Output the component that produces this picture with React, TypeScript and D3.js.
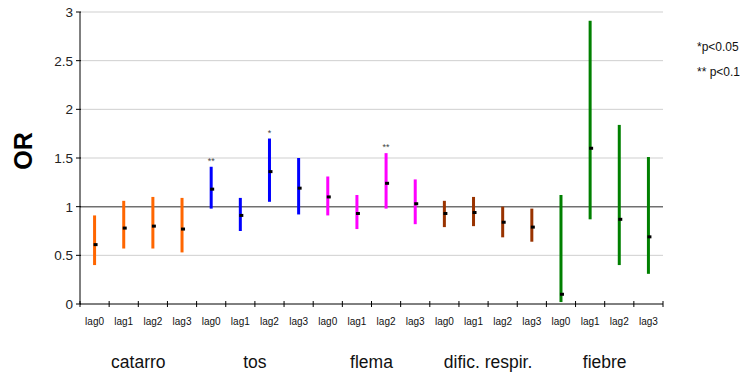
import * as d3 from "d3";

const GROUPS = ["catarro", "tos", "flema", "dific. respir.", "fiebre"];
const LAGS = ["lag0", "lag1", "lag2", "lag3"];
const GROUP_COLORS = ["#ff6600", "#0000ff", "#ff00ff", "#993300", "#008000"];

// odds ratio, lower and upper confidence limits, one per group x lag
const OR_VALUES = [0.61, 0.78, 0.8, 0.77, 1.18, 0.91, 1.36, 1.19, 1.1, 0.93, 1.24, 1.03, 0.93, 0.94, 0.84, 0.79, 0.1, 1.6, 0.87, 0.69];
const LOWER = [0.4, 0.57, 0.57, 0.53, 0.98, 0.75, 1.05, 0.92, 0.91, 0.77, 0.98, 0.82, 0.79, 0.8, 0.685, 0.64, 0.02, 0.87, 0.4, 0.31];
const UPPER = [0.91, 1.06, 1.1, 1.09, 1.41, 1.09, 1.7, 1.5, 1.31, 1.12, 1.55, 1.28, 1.06, 1.1, 1.0, 0.98, 1.12, 2.91, 1.84, 1.51];
const SIGNIF = ["", "", "", "", "**", "", "*", "", "", "", "**", "", "", "", "", "", "", "", "", ""];

const Y_TICKS = [0, 0.5, 1, 1.5, 2, 2.5, 3];
const NOTES = ["*p<0.05", "** p<0.1"];

const WIDTH = 744;
const HEIGHT = 375;
const MARGIN = { top: 12, right: 81, bottom: 71, left: 80 };
const FONT = "'Liberation Sans', Arial, sans-serif";

export default function App() {
  const boundsWidth = WIDTH - MARGIN.left - MARGIN.right;
  const boundsHeight = HEIGHT - MARGIN.top - MARGIN.bottom;

  const data = [];
  GROUPS.forEach((g, gi) => {
    LAGS.forEach((l, li) => {
      const i = gi * LAGS.length + li;
      data.push({ key: g + "-" + l, group: g, gi, lag: l, or: OR_VALUES[i], lo: LOWER[i], hi: UPPER[i], sig: SIGNIF[i] });
    });
  });

  const xScale = d3.scaleBand().domain(data.map((d) => d.key)).range([0, boundsWidth]);
  const yScale = d3.scaleLinear().domain([0, 3]).range([boundsHeight, 0]);
  const bw = xScale.bandwidth();

  const grid = Y_TICKS.slice(1).map((v) => (
    <line
      key={v}
      x1={0}
      x2={boundsWidth}
      y1={yScale(v)}
      y2={yScale(v)}
      stroke={v === 1 ? "#707070" : "#cfcfcf"}
      strokeWidth={v === 1 ? 1.5 : 1}
    />
  ));

  const yAxis = Y_TICKS.map((v) => (
    <g key={v}>
      <line x1={-4} x2={1} y1={yScale(v)} y2={yScale(v)} stroke="#000" />
      <text x={-7} y={yScale(v)} dy="0.36em" textAnchor="end" fontSize={13.5} fill="#222">
        {v}
      </text>
    </g>
  ));

  const xTicks = d3.range(data.length + 1).map((i) => {
    const x = i < data.length ? xScale(data[i].key) : boundsWidth;
    return <line key={i} x1={x} x2={x} y1={boundsHeight - 3} y2={boundsHeight + 3} stroke="#000" />;
  });

  const bars = data.map((d) => {
    const cx = xScale(d.key) + bw / 2;
    return (
      <g key={d.key}>
        <rect x={cx - 1.5} width={3} y={yScale(d.hi)} height={yScale(d.lo) - yScale(d.hi)} fill={GROUP_COLORS[d.gi]} />
        <rect x={cx - 1} width={4} y={yScale(d.or) - 1.5} height={3} fill="#000" />
        {d.sig && (
          <text x={cx} y={yScale(d.hi) - 3} textAnchor="middle" fontSize={9} fill="#444">
            {d.sig}
          </text>
        )}
      </g>
    );
  });

  const lagLabels = data.map((d) => (
    <text key={d.key} x={xScale(d.key) + bw / 2} y={boundsHeight + 21} textAnchor="middle" fontSize={10} fill="#111">
      {d.lag}
    </text>
  ));

  const groupLabels = GROUPS.map((g, gi) => (
    <text
      key={g}
      x={xScale(g + "-" + LAGS[0]) + (bw * LAGS.length) / 2}
      y={boundsHeight + 64}
      textAnchor="middle"
      fontSize={17.5}
      fill="#111"
    >
      {g}
    </text>
  ));

  return (
    <svg width={WIDTH} height={HEIGHT} style={{ position: "absolute", left: 0, top: 0 }} fontFamily={FONT}>
      <rect width={WIDTH} height={HEIGHT} fill="#fff" />
      <g transform={`translate(${MARGIN.left},${MARGIN.top})`}>
        <g>{grid}</g>
        <line x1={0} x2={0} y1={0} y2={boundsHeight} stroke="#000" />
        <line x1={0} x2={boundsWidth} y1={boundsHeight} y2={boundsHeight} stroke="#000" />
        <g>{yAxis}</g>
        <g>{xTicks}</g>
        <g>{bars}</g>
        <g>{lagLabels}</g>
        <g>{groupLabels}</g>
      </g>
      <text transform="translate(32,151) rotate(-90)" textAnchor="middle" fontSize={25} fontWeight="bold" fill="#000">
        OR
      </text>
      {NOTES.map((n, i) => (
        <text key={n} x={697} y={51 + i * 25} fontSize={12} fill="#111">
          {n}
        </text>
      ))}
    </svg>
  );
}
